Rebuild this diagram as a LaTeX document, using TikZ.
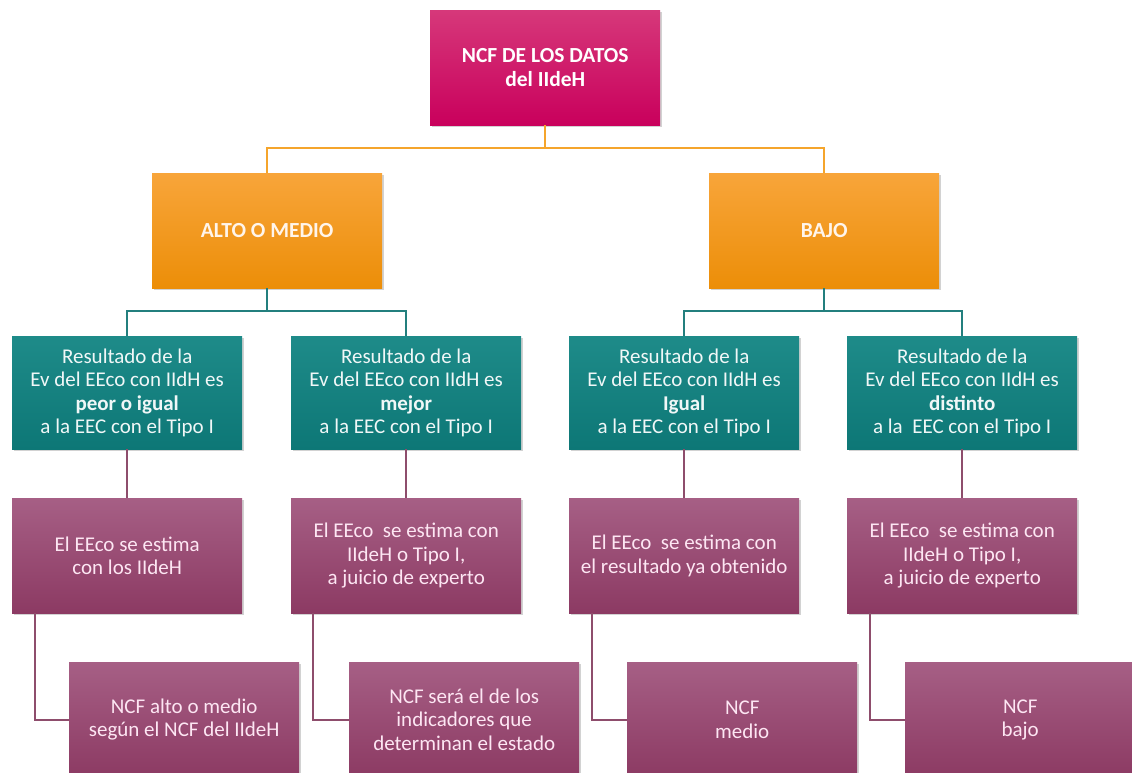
\documentclass[tikz,border=0pt]{standalone}
\usepackage{fontspec}
\setmainfont{Carlito}
\usetikzlibrary{shadows}
\definecolor{magtop}{HTML}{D6387A}
\definecolor{magbot}{HTML}{C9005C}
\definecolor{orgtop}{HTML}{F8A53A}
\definecolor{orgbot}{HTML}{EC8E08}
\definecolor{teltop}{HTML}{1E8B89}
\definecolor{telbot}{HTML}{0D7776}
\definecolor{purtop}{HTML}{A65F85}
\definecolor{purbot}{HTML}{8C3A63}
\definecolor{orgline}{HTML}{F5A52C}
\definecolor{telline}{HTML}{237F7E}
\definecolor{purline}{HTML}{8E4D6C}
\tikzset{
  box/.style={anchor=north west, minimum width=230pt, minimum height=115pt,
    inner sep=2pt, align=center, font=\fontsize{21}{23.4}\selectfont,
    drop shadow={opacity=0.35, shadow xshift=1.5pt, shadow yshift=-2pt}},
  magbox/.style={box, top color=magtop, bottom color=magbot, text=white, font=\fontsize{21.5}{23.4}\selectfont\bfseries},
  orgbox/.style={box, top color=orgtop, bottom color=orgbot, text=white!92!orange, font=\fontsize{21.5}{23.4}\selectfont\bfseries},
  telbox/.style={box, minimum height=113pt, top color=teltop, bottom color=telbot, text=white!94!teal},
  purbox/.style={box, top color=purtop, bottom color=purbot, text=white!90!magenta},
  oline/.style={draw=orgline, line width=2pt},
  tline/.style={draw=telline, line width=2pt},
  pline/.style={draw=purline, line width=1.6pt},
}
\begin{document}
\begin{tikzpicture}[x=1pt,y=-1pt]
\useasboundingbox (0,0) rectangle (1132,773);
\clip (0,0) rectangle (1132,773);
\fill[white] (0,0) rectangle (1132,773);

\node[magbox] (top) at (430,10) {NCF DE LOS DATOS\\del IIdeH};
\node[orgbox] (alto) at (152,173) {ALTO O MEDIO};
\node[orgbox] (bajo) at (709,173) {BAJO};

\node[telbox] (t1) at (12,336) {Resultado de la\\Ev del EEco con IIdH es\\\textbf{peor o igual}\\a la EEC con el Tipo I};
\node[telbox] (t2) at (291,336) {Resultado de la\\Ev del EEco con IIdH es\\\textbf{mejor}\\a la EEC con el Tipo I};
\node[telbox] (t3) at (569,336) {Resultado de la\\Ev del EEco con IIdH es\\\textbf{Igual}\\a la EEC con el Tipo I};
\node[telbox] (t4) at (847,336) {Resultado de la\\Ev del EEco con IIdH es\\\textbf{distinto}\\a la\ \ EEC con el Tipo I};

\node[purbox] (p1) at (12,498) {El EEco se estima\\con los IIdeH};
\node[purbox] (p2) at (291,498) {El EEco\ \ se estima con\\IIdeH o Tipo I,\\a juicio de experto};
\node[purbox] (p3) at (569,498) {El EEco\ \ se estima con\\el resultado ya obtenido};
\node[purbox] (p4) at (847,498) {El EEco\ \ se estima con\\IIdeH o Tipo I,\\a juicio de experto};

\node[purbox] (b1) at (69,662) {NCF alto o medio\\según el NCF del IIdeH};
\node[purbox] (b2) at (349,662) {NCF será el de los\\indicadores que\\determinan el estado};
\node[purbox] (b3) at (627,662) {NCF\\medio};
\node[purbox] (b4) at (905,662) {NCF\\bajo};

\draw[oline] (top.south) -- ++(0,23) -| (alto.north);
\draw[oline] (top.south) -- ++(0,23) -| (bajo.north);

\draw[tline] (alto.south) -- ++(0,23) -| (t1.north);
\draw[tline] (alto.south) -- ++(0,23) -| (t2.north);
\draw[tline] (bajo.south) -- ++(0,23) -| (t3.north);
\draw[tline] (bajo.south) -- ++(0,23) -| (t4.north);

\draw[pline] (t1.south) -- (p1.north);
\draw[pline] (t2.south) -- (p2.north);
\draw[pline] (t3.south) -- (p3.north);
\draw[pline] (t4.south) -- (p4.north);

\draw[pline] ([xshift=23pt]p1.south west) |- (b1.west);
\draw[pline] ([xshift=22pt]p2.south west) |- (b2.west);
\draw[pline] ([xshift=23pt]p3.south west) |- (b3.west);
\draw[pline] ([xshift=23pt]p4.south west) |- (b4.west);
\end{tikzpicture}
\end{document}
